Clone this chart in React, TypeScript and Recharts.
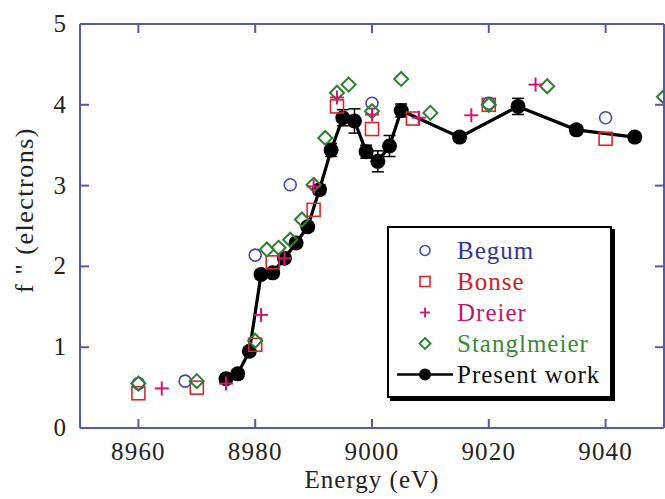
import React from 'react';
import {
  ScatterChart,
  Scatter,
  XAxis,
  YAxis,
  Legend,
  ErrorBar,
} from 'recharts';

// ---------- data ----------
const xTicks = [8960, 8980, 9000, 9020, 9040];
const yTicks = [0, 1, 2, 3, 4, 5];

const begumX = [8960, 8968, 8980, 8986, 9000, 9020, 9040];
const begumY = [0.55, 0.58, 2.14, 3.01, 4.02, 4.02, 3.84];

const bonseX = [8960, 8970, 8980, 8983, 8990, 8994, 9000, 9007, 9020, 9040];
const bonseY = [0.43, 0.5, 1.03, 2.05, 2.7, 3.98, 3.7, 3.83, 4.0, 3.58];

const dreierX = [8964, 8975, 8981, 8985, 8990, 8994, 9000, 9008, 9017, 9028];
const dreierY = [0.49, 0.55, 1.4, 2.1, 2.99, 4.09, 3.88, 3.84, 3.87, 4.25];

const stangX = [8960, 8970, 8980, 8982, 8984, 8986, 8988, 8990, 8992, 8994, 8996, 9000, 9005, 9010, 9020, 9030, 9050];
const stangY = [0.55, 0.58, 1.08, 2.21, 2.23, 2.33, 2.58, 3.01, 3.59, 4.15, 4.25, 3.92, 4.32, 3.9, 4.0, 4.23, 4.1];

const presentX = [8975, 8977, 8979, 8981, 8983, 8985, 8987, 8989, 8991, 8993, 8995, 8997, 8999, 9001, 9003, 9005, 9015, 9025, 9035, 9045];
const presentY = [0.61, 0.67, 0.95, 1.9, 1.92, 2.1, 2.29, 2.49, 2.95, 3.44, 3.84, 3.8, 3.42, 3.3, 3.49, 3.93, 3.6, 3.98, 3.69, 3.6];
const presentErr = [0.05, 0.05, 0.05, 0.05, 0.05, 0.05, 0.05, 0.05, 0.06, 0.08, 0.1, 0.15, 0.08, 0.13, 0.13, 0.08, 0.05, 0.1, 0.05, 0.05];

const zip = (xs: number[], ys: number[]) => xs.map((x, i) => ({ x, y: ys[i] }));
const begumData = zip(begumX, begumY);
const bonseData = zip(bonseX, bonseY);
const dreierData = zip(dreierX, dreierY);
const stangData = zip(stangX, stangY);
const presentData = presentX.map((x, i) => ({ x, y: presentY[i], err: presentErr[i] }));

// ---------- styles ----------
const FONT = '"Liberation Serif", "Times New Roman", serif';
const AXIS = '#5a5aa2';
const C_BEGUM = '#4848aa';
const C_BONSE = '#d6282e';
const C_DREIER = '#d2186e';
const C_STANG = '#2f7f2f';

const CircleShape = (p: any) => (
  <circle cx={p.cx} cy={p.cy} r={6} fill="none" stroke={C_BEGUM} strokeWidth={1.6} />
);
const SquareShape = (p: any) => (
  <rect x={p.cx - 6.5} y={p.cy - 6.5} width={13} height={13} fill="none" stroke={C_BONSE} strokeWidth={1.6} />
);
const PlusShape = (p: any) => (
  <g stroke={C_DREIER} strokeWidth={2}>
    <line x1={p.cx - 7} x2={p.cx + 7} y1={p.cy} y2={p.cy} />
    <line x1={p.cx} x2={p.cx} y1={p.cy - 7} y2={p.cy + 7} />
  </g>
);
const DiamondShape = (p: any) => (
  <polygon
    points={`${p.cx},${p.cy - 7} ${p.cx + 7},${p.cy} ${p.cx},${p.cy + 7} ${p.cx - 7},${p.cy}`}
    fill="none"
    stroke={C_STANG}
    strokeWidth={2}
  />
);
const DotShape = (p: any) => <circle cx={p.cx} cy={p.cy} r={7.5} fill="#000" />;

// ---------- ticks ----------
const BottomTick = (p: any) => (
  <g>
    <line x1={p.x} x2={p.x} y1={p.y} y2={p.y - 9} stroke={AXIS} strokeWidth={2} />
    <text x={p.x} y={p.y + 32} textAnchor="middle" fontFamily={FONT} fontSize={25} letterSpacing={1.2} fill="#222">
      {p.payload.value}
    </text>
  </g>
);
const TopTick = (p: any) => (
  <line x1={p.x} x2={p.x} y1={p.y} y2={p.y + 9} stroke={AXIS} strokeWidth={2} />
);
const LeftTick = (p: any) => (
  <g>
    <line x1={p.x} x2={p.x + 9} y1={p.y} y2={p.y} stroke={AXIS} strokeWidth={2} />
    <text x={p.x - 14} y={p.y + 8} textAnchor="end" fontFamily={FONT} fontSize={25} fill="#222">
      {p.payload.value}
    </text>
  </g>
);
const RightTick = (p: any) => (
  <line x1={p.x} x2={p.x - 9} y1={p.y} y2={p.y} stroke={AXIS} strokeWidth={2} />
);

// ---------- legend ----------
const legendItems = [
  { name: 'Begum', color: '#35358f', kind: 'circle' },
  { name: 'Bonse', color: '#c8202a', kind: 'square' },
  { name: 'Dreier', color: '#c0186a', kind: 'plus' },
  { name: 'Stanglmeier', color: '#3a8a3a', kind: 'diamond' },
  { name: 'Present work', color: '#111', kind: 'line' },
];

const LegendSymbol = ({ kind }: { kind: string }) => {
  const cx = 36;
  const cy = 15.5;
  let el: React.ReactNode = null;
  if (kind === 'circle') el = <circle cx={cx} cy={cy} r={5} fill="none" stroke={C_BEGUM} strokeWidth={1.6} />;
  if (kind === 'square') el = <rect x={cx - 5} y={cy - 5} width={10} height={10} fill="none" stroke={C_BONSE} strokeWidth={1.6} />;
  if (kind === 'plus')
    el = (
      <g stroke={C_DREIER} strokeWidth={1.8}>
        <line x1={cx - 5} x2={cx + 5} y1={cy} y2={cy} />
        <line x1={cx} x2={cx} y1={cy - 5} y2={cy + 5} />
      </g>
    );
  if (kind === 'diamond')
    el = (
      <polygon
        points={`${cx},${cy - 5.5} ${cx + 5.5},${cy} ${cx},${cy + 5.5} ${cx - 5.5},${cy}`}
        fill="none"
        stroke={C_STANG}
        strokeWidth={1.8}
      />
    );
  if (kind === 'line')
    el = (
      <g>
        <line x1={8} x2={64} y1={cy} y2={cy} stroke="#000" strokeWidth={2.5} />
        <circle cx={cx} cy={cy} r={6} fill="#000" />
      </g>
    );
  return (
    <svg width={68} height={31} style={{ display: 'block', flex: '0 0 68px' }}>
      {el}
    </svg>
  );
};

const LegendBox = () => (
  <div
    style={{
      width: 225,
      height: 172,
      boxSizing: 'border-box',
      border: '2px solid #000',
      boxShadow: '3px 3px 0 #000',
      background: '#fff',
      paddingTop: 6.5,
      fontFamily: FONT,
      fontSize: 25,
      letterSpacing: 1,
    }}
  >
    {legendItems.map((it) => (
      <div key={it.name} style={{ display: 'flex', alignItems: 'center', height: 31 }}>
        <LegendSymbol kind={it.kind} />
        <span style={{ color: it.color, lineHeight: '31px', whiteSpace: 'nowrap' }}>{it.name}</span>
      </div>
    ))}
  </div>
);

export default function App() {
  return (
    <div style={{ position: 'absolute', left: 0, top: 0, width: 665, height: 499, background: '#fff' }}>
      <ScatterChart width={665} height={499} margin={{ top: 0, right: 0, bottom: 0, left: 0 }}>
        <XAxis
          type="number"
          dataKey="x"
          domain={[8950, 9050]}
          ticks={xTicks}
          interval={0}
          allowDataOverflow
          height={71}
          tickSize={0}
          tickMargin={0}
          tickLine={false}
          axisLine={{ stroke: AXIS, strokeWidth: 2 }}
          tick={BottomTick}
          label={{
            content: (p: any) => (
              <text
                x={p.viewBox.x + p.viewBox.width / 2}
                y={488}
                textAnchor="middle"
                fontFamily={FONT}
                fontSize={25}
                letterSpacing={1}
                fill="#222"
              >
                Energy (eV)
              </text>
            ),
          }}
        />
        <XAxis
          xAxisId="top"
          orientation="top"
          type="number"
          dataKey="x"
          domain={[8950, 9050]}
          ticks={xTicks}
          interval={0}
          allowDataOverflow
          height={24}
          tickSize={0}
          tickMargin={0}
          tickLine={false}
          axisLine={{ stroke: AXIS, strokeWidth: 2 }}
          tick={TopTick}
        />
        <YAxis
          type="number"
          dataKey="y"
          domain={[0, 5]}
          ticks={yTicks}
          interval={0}
          allowDataOverflow
          width={80}
          tickSize={0}
          tickMargin={0}
          tickLine={false}
          axisLine={{ stroke: AXIS, strokeWidth: 2 }}
          tick={LeftTick}
          label={{
            content: () => (
              <text
                x={33}
                y={210}
                transform="rotate(-90, 33, 210)"
                textAnchor="middle"
                fontFamily={FONT}
                fontSize={26}
                letterSpacing={1.5}
                fill="#222"
              >
                {'f " (electrons)'}
              </text>
            ),
          }}
        />
        <YAxis
          yAxisId="right"
          orientation="right"
          type="number"
          dataKey="y"
          domain={[0, 5]}
          ticks={yTicks}
          interval={0}
          allowDataOverflow
          width={1}
          tickSize={0}
          tickMargin={0}
          tickLine={false}
          axisLine={{ stroke: AXIS, strokeWidth: 2 }}
          tick={RightTick}
        />
        <Legend
          layout="vertical"
          align="center"
          verticalAlign="middle"
          content={() => <LegendBox />}
          wrapperStyle={{ position: 'absolute', left: 387, top: 226, width: 230, height: 176 }}
        />
        <Scatter
          name="Present work"
          data={presentData}
          line={{ stroke: '#000', strokeWidth: 3.2 }}
          lineJointType="linear"
          shape={DotShape}
          isAnimationActive={false}
        >
          <ErrorBar dataKey="err" direction="y" width={6} stroke="#000" strokeWidth={1.5} />
        </Scatter>
        <Scatter name="Bonse" data={bonseData} shape={SquareShape} isAnimationActive={false} />
        <Scatter name="Begum" data={begumData} shape={CircleShape} isAnimationActive={false} />
        <Scatter name="Stanglmeier" data={stangData} shape={DiamondShape} isAnimationActive={false} />
        <Scatter name="Dreier" data={dreierData} shape={PlusShape} isAnimationActive={false} />
      </ScatterChart>
    </div>
  );
}
